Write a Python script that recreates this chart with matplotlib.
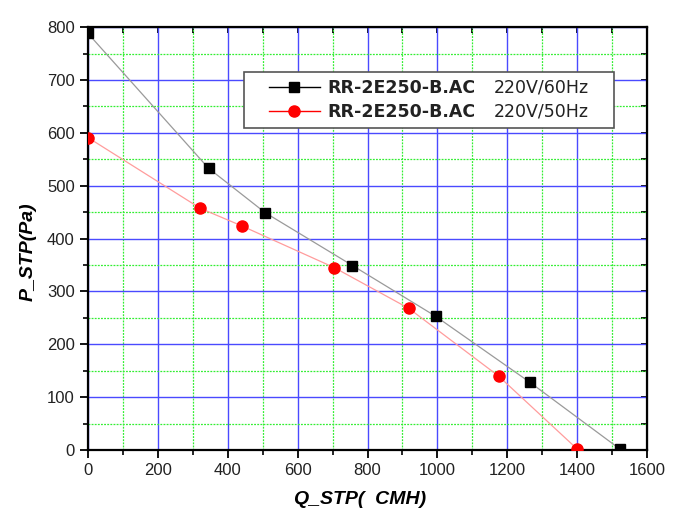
import matplotlib.pyplot as plt
from matplotlib.lines import Line2D
from matplotlib.ticker import MultipleLocator

# fan curves
q_60 = [0, 345, 507, 757, 995, 1265, 1522]
p_60 = [788, 533, 449, 349, 253, 128, 2]
q_50 = [0, 322, 440, 705, 918, 1175, 1400]
p_50 = [591, 457, 424, 345, 268, 140, 2]

model = 'RR-2E250-B.AC'
supply = ['220V/60Hz', '220V/50Hz']

plt.rcParams['font.family'] = ['Liberation Sans', 'DejaVu Sans']

fig = plt.figure(figsize=(7, 5.31), dpi=100)
ax = fig.add_axes([0.1257, 0.1525, 0.7986, 0.7965])

ax.plot(q_60, p_60, color='#9a9a9a', lw=0.9, zorder=3)
ax.plot(q_60, p_60, 's', color='black', ms=6.5, zorder=4)
ax.plot(q_50, p_50, color='#ff9c9c', lw=0.9, zorder=3)
ax.plot(q_50, p_50, 'o', color='red', ms=8, zorder=4)

ax.set_xlim(0, 1600)
ax.set_ylim(0, 800)
ax.xaxis.set_major_locator(MultipleLocator(200))
ax.xaxis.set_minor_locator(MultipleLocator(100))
ax.yaxis.set_major_locator(MultipleLocator(100))
ax.yaxis.set_minor_locator(MultipleLocator(50))

ax.grid(which='major', color='#4a4aff', lw=1.0, ls='-')
ax.grid(which='minor', color='#33ee33', lw=0.9, ls=(0, (1.5, 1)))
ax.set_axisbelow(True)

ax.tick_params(which='major', direction='out', length=6, width=1.3,
               labelsize=12, labelcolor='#222222')
ax.tick_params(which='minor', direction='out', length=3.5, width=1.2)
for s in ax.spines.values():
    s.set_linewidth(1.6)

top = ax.secondary_xaxis('top')
top.xaxis.set_major_locator(MultipleLocator(200))
top.xaxis.set_minor_locator(MultipleLocator(100))
top.tick_params(which='both', direction='in', length=4, width=1.3, labeltop=False)
right = ax.secondary_yaxis('right')
right.yaxis.set_major_locator(MultipleLocator(100))
right.yaxis.set_minor_locator(MultipleLocator(50))
right.tick_params(which='both', direction='in', length=4, width=1.3, labelright=False)

ax.set_xlabel('Q_STP(  CMH)', fontsize=14, fontweight='bold', style='italic')
ax.set_ylabel('P_STP(Pa)', fontsize=14, fontweight='bold', style='italic')
ax.xaxis.set_label_coords(0.487, -0.097)
ax.yaxis.set_label_coords(-0.091, 0.47)

# legend: blank outer columns give the wide side padding of the original
h1 = Line2D([], [], color='black', marker='s', ms=7, lw=1)
h2 = Line2D([], [], color='red', marker='o', ms=8, lw=1)
blank = Line2D([], [], ls='none')
leg = ax.legend([blank, blank, h1, h2, blank, blank, blank, blank],
                ['', '', model, model, supply[0], supply[1], '', ''],
                ncol=4, loc='upper right', bbox_to_anchor=(0.941, 0.894),
                borderaxespad=0, fancybox=False, edgecolor='#555555',
                framealpha=1, prop={'family': 'DejaVu Sans', 'size': 12.5},
                handlelength=2.9, handletextpad=0.45, columnspacing=-2.3,
                labelspacing=0.35, borderpad=0.4)
leg.get_frame().set_linewidth(1.2)
texts = leg.get_texts()
for t in texts[2:4]:
    t.set_fontweight('bold')
for t in texts:
    t.set_color('#222222')

fig.savefig('out.png', dpi=100, facecolor='white')
